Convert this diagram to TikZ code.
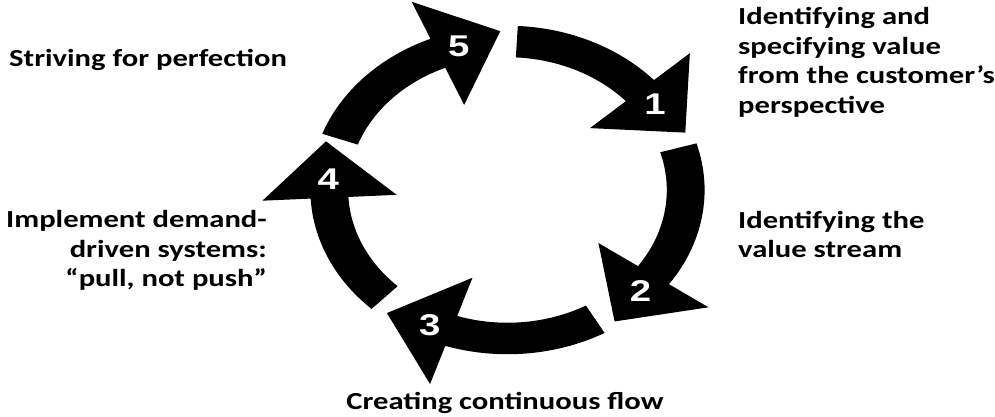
\documentclass[tikz,border=0pt]{standalone}
\usepackage{fontspec}
\setmainfont[FakeStretch=1.25]{Carlito}
\newfontfamily\numfont[FakeStretch=1.28]{Liberation Sans}
\usetikzlibrary{calc}
\def\Rm{148.5}
\def\Ro{164.25}
\def\Ri{132.75}
\def\Rh{204.5}
\def\Rl{92.5}
\def\Ll{56.5}
\newcommand\cycarr[4]{%
  \pgfmathsetmacro\tipx{\Rm*cos(#2)+\Ll*sin(#2)}%
  \pgfmathsetmacro\tipy{\Rm*sin(#2)-\Ll*cos(#2)}%
  \pgfmathsetmacro\cenx{\Rm*cos(#2)+\Ll/3*sin(#2)}%
  \pgfmathsetmacro\ceny{\Rm*sin(#2)-\Ll/3*cos(#2)}%
  \fill[arrowfill] (#1:\Ro) arc[start angle=#1,end angle=#2,radius=\Ro] -- (#2:\Rh) -- (\tipx,\tipy) -- (#2:\Rl) -- (#2:\Ri) arc[start angle=#2,end angle=#1,radius=\Ri] -- cycle;
  \node[num] (#3) at (\cenx,\ceny) {#4};
}
\begin{document}
\begin{tikzpicture}[x=1pt,y=1pt,
  arrowfill/.style={fill=black},
  lbl/.style={font=\fontsize{24.5}{29.5}\selectfont\bfseries, inner sep=0pt},
  num/.style={font=\fontsize{30}{30}\selectfont\numfont\bfseries, text=white, inner sep=0pt}]
\useasboundingbox (0,0) rectangle (995,417);
\fill[white] (0,0) rectangle (995,417);
\begin{scope}[shift={(507.5,227)}, xscale=1.2]
  \cycarr{160}{113}{n5}{5}
  \cycarr{87}{42}{n1}{1}
  \cycarr{16.5}{-35}{n2}{2}
  \cycarr{-60.5}{-108.4}{n3}{3}
  \cycarr{226.4}{183}{n4}{4}
\end{scope}
\node[lbl, anchor=base west, align=left] (l1) at (738,303.5) {Identifying and\\specifying value\\from the customer’s\\perspective};
\node[lbl, anchor=base west, align=left] (l2) at (738,159) {Identifying the\\value stream};
\node[lbl, anchor=base] (l3) at (505,7) {Creating continuous flow};
\node[lbl, anchor=base east, align=right] (l4) at (267,130) {Implement demand-\\driven systems:\\“pull, not push”};
\node[lbl, anchor=base west] (l5) at (9,350) {Striving for perfection};
\end{tikzpicture}
\end{document}
